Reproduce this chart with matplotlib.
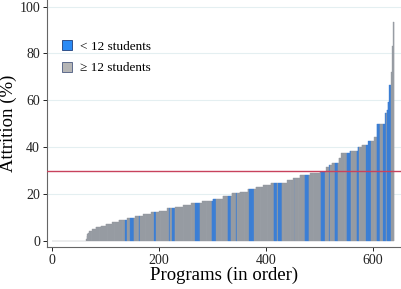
import numpy as np
import matplotlib.pyplot as plt
from matplotlib.patches import Patch

# attrition (%) of each program, sorted; stored as plateau levels and bar counts
level_values = [0, 1.0, 2.0, 2.8, 3.5, 4.2, 5.0, 5.8, 6.6, 7.4, 8.0, 8.8, 9.6, 10.5,
                11.4, 12.2, 13.0, 13.9, 14.7, 15.5, 16.3, 17.2, 18.0, 19.2, 20.3,
                21.1, 22.0, 22.9, 23.8, 24.7, 26.0, 27.0, 28.1, 28.8, 29.6, 31.5,
                32.3, 33.3, 35.5, 37.4, 38.3, 40.0, 40.9, 42.5, 44.5, 49.8, 54.6,
                56.0, 59.5, 66.5, 72.0, 83.0, 93.3]
level_counts = [64, 1, 1, 1, 3, 5, 7, 9, 10, 12, 12, 16, 15, 15,
                15, 15, 15, 15, 15, 15, 20, 20, 18, 17, 15,
                15, 15, 14, 14, 31, 11, 12, 20, 18, 12, 5,
                5, 13, 5, 16, 15, 7, 12, 12, 4, 16, 3,
                2, 3, 3, 2, 2, 2]

# programs (by rank) with fewer than 12 students
small_ranges = [(137, 140), (147, 152), (163, 163), (191, 194), (219, 219),
                (225, 229), (268, 275), (299, 306), (329, 333), (345, 345),
                (369, 377), (415, 420), (423, 429), (454, 454), (473, 479),
                (503, 510), (518, 518), (529, 533), (551, 558), (570, 574),
                (588, 596), (607, 612), (619, 624), (626, 633)]

threshold = 30

attrition = np.repeat(level_values, level_counts)
n = len(attrition)
rank = np.arange(n)
small = np.zeros(n, dtype=bool)
for a, b in small_ranges:
    small[a:b + 1] = True

grey = '#a0a5ac'
blue = '#3f84dc'

plt.rcParams['font.family'] = ['Liberation Serif', 'DejaVu Serif']

fig = plt.figure(figsize=(4.02, 2.89), dpi=100)
ax = fig.add_axes([0.117, 0.145, 0.883, 0.855])

for y in range(20, 101, 20):
    ax.axhline(y, color='#e4eff1', lw=0.8, zorder=0)

cols = np.where(small, blue, grey)
edges = np.where(small, '#3a7bd0', '#8f949c')
ax.bar(rank, attrition, width=1.0, color=cols, edgecolor=edges, linewidth=0.25, zorder=2)
ax.axhline(threshold, color='#c8425c', lw=1.0, zorder=3)

ax.set_xlim(-9.5, 654)
ax.set_ylim(-2.6, 102.8)
ax.set_xticks([0, 200, 400, 600])
ax.set_yticks(range(0, 101, 20))
ax.tick_params(labelsize=10, length=3, width=0.7, colors='#222222', pad=2)
for s in ['top', 'right']:
    ax.spines[s].set_visible(False)
for s in ['left', 'bottom']:
    ax.spines[s].set_color('#666666')
    ax.spines[s].set_linewidth(0.8)

ax.set_xlabel('Programs (in order)', fontsize=13.5, labelpad=0)
ax.set_ylabel('Attrition (%)', fontsize=13.5, labelpad=2)

handles = [Patch(facecolor='#2a8af5', edgecolor='#1f3f7a', linewidth=0.6),
           Patch(facecolor='#b5b5b5', edgecolor='#4a5a80', linewidth=0.6)]
ax.legend(handles, ['< 12 students', '≥ 12 students'], loc='upper left',
          bbox_to_anchor=(0.01, 0.885), frameon=False, fontsize=9.5,
          handlelength=0.75, handleheight=0.75, handletextpad=0.6, labelspacing=0.7)

fig.savefig('out.png', dpi=100)
